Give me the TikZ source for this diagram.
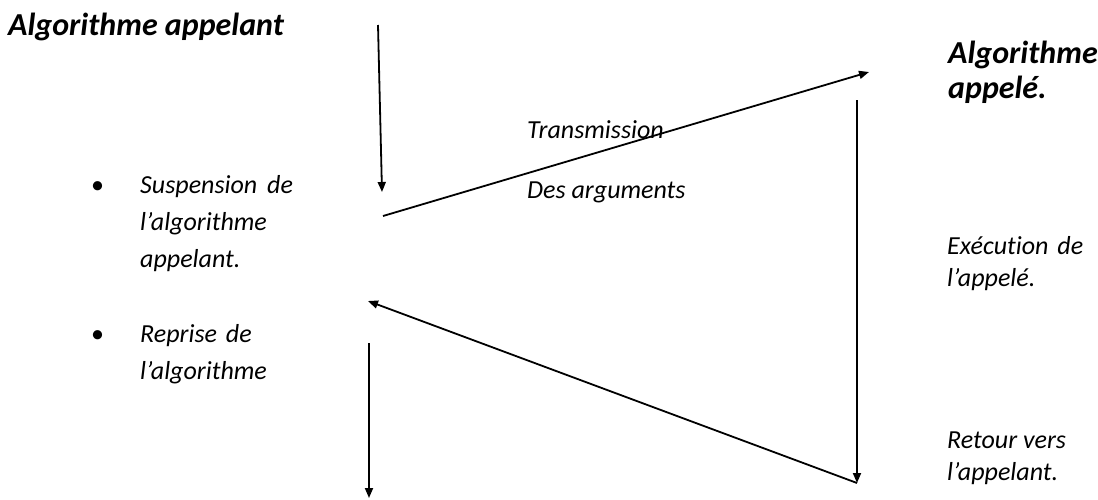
\documentclass[tikz,border=0pt]{standalone}
\usepackage{fontspec}
\setmainfont{Carlito}[Ligatures=NoCommon]
\usetikzlibrary{arrows.meta}
\tikzset{
  conn/.style={line width=1.8pt,-{Triangle[length=10pt,width=8pt]}},
  body/.style={inner sep=0pt,anchor=base west,font=\fontsize{26}{30}\selectfont\itshape},
  head/.style={inner sep=0pt,anchor=base west,font=\fontsize{32}{38}\selectfont\bfseries\itshape},
  bul/.style={inner sep=0pt,anchor=base west,font=\fontsize{26}{30}\selectfont},
}
\begin{document}
\begin{tikzpicture}[x=1pt,y=-1pt]
\useasboundingbox (0,0) rectangle (1098,499);
% headings
\node[head] (h1) at (8,35) {Algorithme appelant};
\node[head] (h2a) at (948,63) {Algorithme};
\node[head] (h2b) at (948,98) {appelé.};
% left bullets
\node[bul] (b1) at (91,193) {\textbullet};
\node[body] (s1) at (140,193) {Suspension\hspace{4pt} de};
\node[body] (s2) at (140,230) {l’algorithme};
\node[body] (s3) at (140,267) {appelant.};
\node[bul] (b2) at (91,342) {\textbullet};
\node[body] (r1) at (140,342) {Reprise\hspace{3pt} de};
\node[body] (r2) at (140,379) {l’algorithme};
% middle labels
\node[body] (t1) at (527,138) {Transmission};
\node[body] (t2) at (527,198) {Des arguments};
% right labels
\node[body] (e1) at (947,254) {Exécution\hspace{3pt} de};
\node[body] (e2) at (947,286) {l’appelé.};
\node[body] (rv1) at (947,448) {Retour vers};
\node[body] (rv2) at (947,480) {l’appelant.};
% connector end points
\coordinate (p1) at (378,25);
\coordinate (p2) at (382,192);
\coordinate (p3) at (383,216);
\coordinate (p4) at (869,72);
\coordinate (p5) at (857,100);
\coordinate (p6) at (857,483);
\coordinate (p7) at (368,301);
\coordinate (p8) at (369,343);
\coordinate (p9) at (369,498);
\draw[conn] (p1) -- (p2);
\draw[conn] (p3) -- (p4);
\draw[conn] (p5) -- (p6);
\draw[conn] (p6) -- (p7);
\draw[conn] (p8) -- (p9);
\end{tikzpicture}
\end{document}
